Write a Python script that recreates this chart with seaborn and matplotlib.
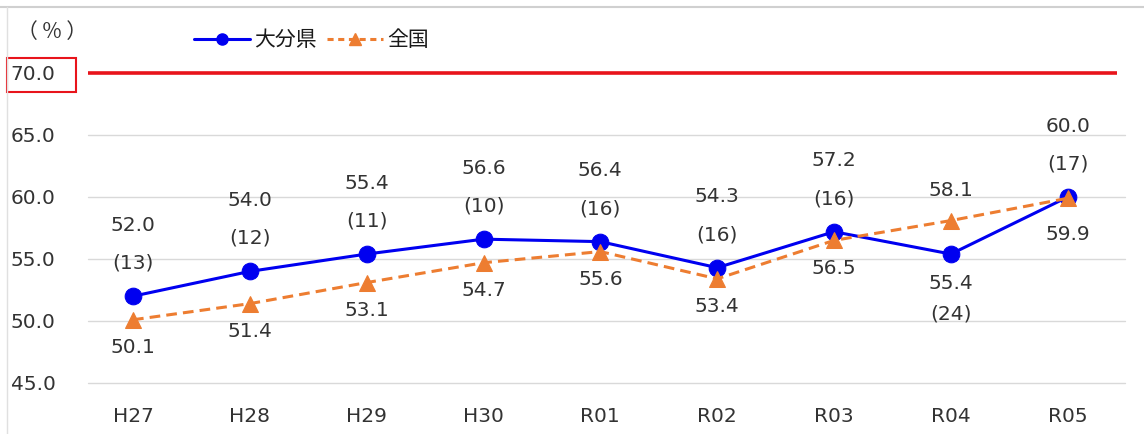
import matplotlib
matplotlib.use("Agg")
import matplotlib.pyplot as plt
import seaborn as sns
import pandas as pd
from matplotlib.patches import Rectangle
from matplotlib.lines import Line2D

# data
years = ["H27", "H28", "H29", "H30", "R01", "R02", "R03", "R04", "R05"]
oita = [52.0, 54.0, 55.4, 56.6, 56.4, 54.3, 57.2, 55.4, 60.0]
oita_rank = [13, 12, 11, 10, 16, 16, 16, 24, 17]
national = [50.1, 51.4, 53.1, 54.7, 55.6, 53.4, 56.5, 58.1, 59.9]
target = 70.0
yticks = [45.0, 50.0, 55.0, 60.0, 65.0, 70.0]

df = pd.DataFrame({"year": years, "大分県": oita, "全国": national})
df["x"] = range(len(years))

sns.set_style("white")
plt.rcParams["font.family"] = ["Noto Sans CJK JP", "DejaVu Sans"]

BLUE = "#0000F0"
ORANGE = "#ED7D31"
TXT = "#333333"

fig = plt.figure(figsize=(11.44, 4.34), dpi=100)
ax = fig.add_axes([88 / 1144, 1 - 383 / 434, (1125 - 88) / 1144, (383 - 73) / 434])

sns.lineplot(data=df, x="x", y="大分県", ax=ax, color=BLUE, lw=2.2,
             marker="o", markersize=12, markeredgecolor=BLUE, zorder=4)
sns.lineplot(data=df, x="x", y="全国", ax=ax, color=ORANGE, lw=2.2,
             linestyle=(0, (3.5, 2)), marker="^", markersize=12,
             markeredgecolor=ORANGE, zorder=5)

ax.set_xlim(-0.385, 8.49)
ax.set_ylim(45, 70)
ax.plot([-0.385, 8.42], [target, target], color="#E8141B", lw=2.6,
        solid_capstyle="butt", zorder=3, clip_on=False)

for y in yticks[:-1]:
    ax.axhline(y, color="#D9D9D9", lw=1, zorder=1, clip_on=False)

ax.set_yticks(yticks)
ax.set_yticklabels([f"{v:.1f}" for v in yticks], fontsize=14.5, color=TXT,
                   family="DejaVu Sans")
ax.set_xticks(range(len(years)))
ax.set_xticklabels(years, fontsize=14.5, color=TXT, family="DejaVu Sans")
ax.tick_params(axis="both", length=0)
ax.tick_params(axis="y", pad=-2)
ax.tick_params(axis="x", pad=17)
for lab in ax.get_yticklabels():
    lab.set_horizontalalignment("left")
    lab.set_x(-80 / 1037)
ax.set_xlabel("")
ax.set_ylabel("")
sns.despine(ax=ax, left=True, bottom=True)

# red box round the 70.0 tick label
fig.patches.append(Rectangle((7 / 1144, 1 - 92 / 434), 69 / 1144, 34 / 434,
                             transform=fig.transFigure, fill=False,
                             edgecolor="#E8141B", lw=1.5))

# value labels (pixel offsets)
def lab(x, y, s, dy):
    ax.annotate(s, (x, y), xytext=(0, -dy), textcoords="offset pixels",
                ha="center", va="center", fontsize=14.5, color=TXT,
                family="DejaVu Sans", zorder=6)

for i, (v, r, n) in enumerate(zip(oita, oita_rank, national)):
    if years[i] == "R04":
        lab(i, v, f"{v:.1f}", 29)
        lab(i, v, f"({r})", 60)
        lab(i, n, f"{n:.1f}", -30)
    else:
        lab(i, v, f"{v:.1f}", -71)
        lab(i, v, f"({r})", -33)
        lab(i, n, f"{n:.1f}", 36 if years[i] == "R05" else 28)

# legend
handles = [
    Line2D([], [], color=BLUE, lw=2.2, marker="o", markersize=8),
    Line2D([], [], color=ORANGE, lw=2.2, linestyle=(0, (2, 1.5)), marker="^", markersize=8),
]
fig.legend(handles, ["大分県", "全国"], loc="center left",
           bbox_to_anchor=(175 / 1144, 1 - 40 / 434), ncol=2, frameon=False,
           fontsize=15, handlelength=2.7, handletextpad=0.2, columnspacing=0.5,
           labelcolor="#1A1A1A")

fig.text(52 / 1144, 1 - 32 / 434, "（ % ）", ha="center", va="center",
         fontsize=15, color=TXT)

# thin frame edges of the original image
fig.add_artist(Line2D([0, 1], [1 - 7 / 434] * 2, transform=fig.transFigure,
                      color="#D0D0D0", lw=1.5))
fig.add_artist(Line2D([7 / 1144] * 2, [0, 1 - 7 / 434], transform=fig.transFigure,
                      color="#E0E0E0", lw=1))

fig.savefig("out.png", dpi=100)
